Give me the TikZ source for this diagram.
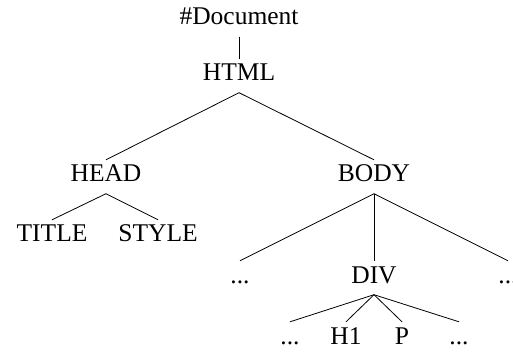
\documentclass[tikz,border=0pt]{standalone}
\usepackage{fontspec}
\setmainfont{Liberation Serif}
\begin{document}
\begin{tikzpicture}[x=1pt,y=-1pt,
  tn/.style={inner sep=0pt, text height=22pt, text depth=11.5pt, anchor=base, font=\fontsize{25.5}{29}\selectfont},
  edge/.style={line width=0.8pt}]
\useasboundingbox (0,0) rectangle (513,352);
\node[tn] (doc) at (239,25) {\#Document};
\node[tn] (html) at (239,81) {HTML};
\node[tn] (head) at (106,182) {HEAD};
\node[tn] (body) at (374,182) {BODY};
\node[tn] (title) at (52,242) {TITLE};
\node[tn] (style) at (158,242) {STYLE};
\node[tn] (d1) at (240,283) {...};
\node[tn] (div) at (374,283) {DIV};
\node[tn] (d2) at (508,283) {...};
\node[tn] (d3) at (290,344) {...};
\node[tn] (h1) at (346,344) {H1};
\node[tn] (p) at (402,344) {P};
\node[tn] (d4) at (459,344) {...};
\draw[edge] (doc.south) -- (html.north);
\draw[edge] (html.south) -- (head.north);
\draw[edge] (html.south) -- (body.north);
\draw[edge] (head.south) -- (title.north);
\draw[edge] (head.south) -- (style.north);
\draw[edge] (body.south) -- (d1.north);
\draw[edge] (body.south) -- (div.north);
\draw[edge] (body.south) -- (d2.north);
\draw[edge] (div.south) -- (d3.north);
\draw[edge] (div.south) -- (h1.north);
\draw[edge] (div.south) -- (p.north);
\draw[edge] (div.south) -- (d4.north);
\end{tikzpicture}
\end{document}
